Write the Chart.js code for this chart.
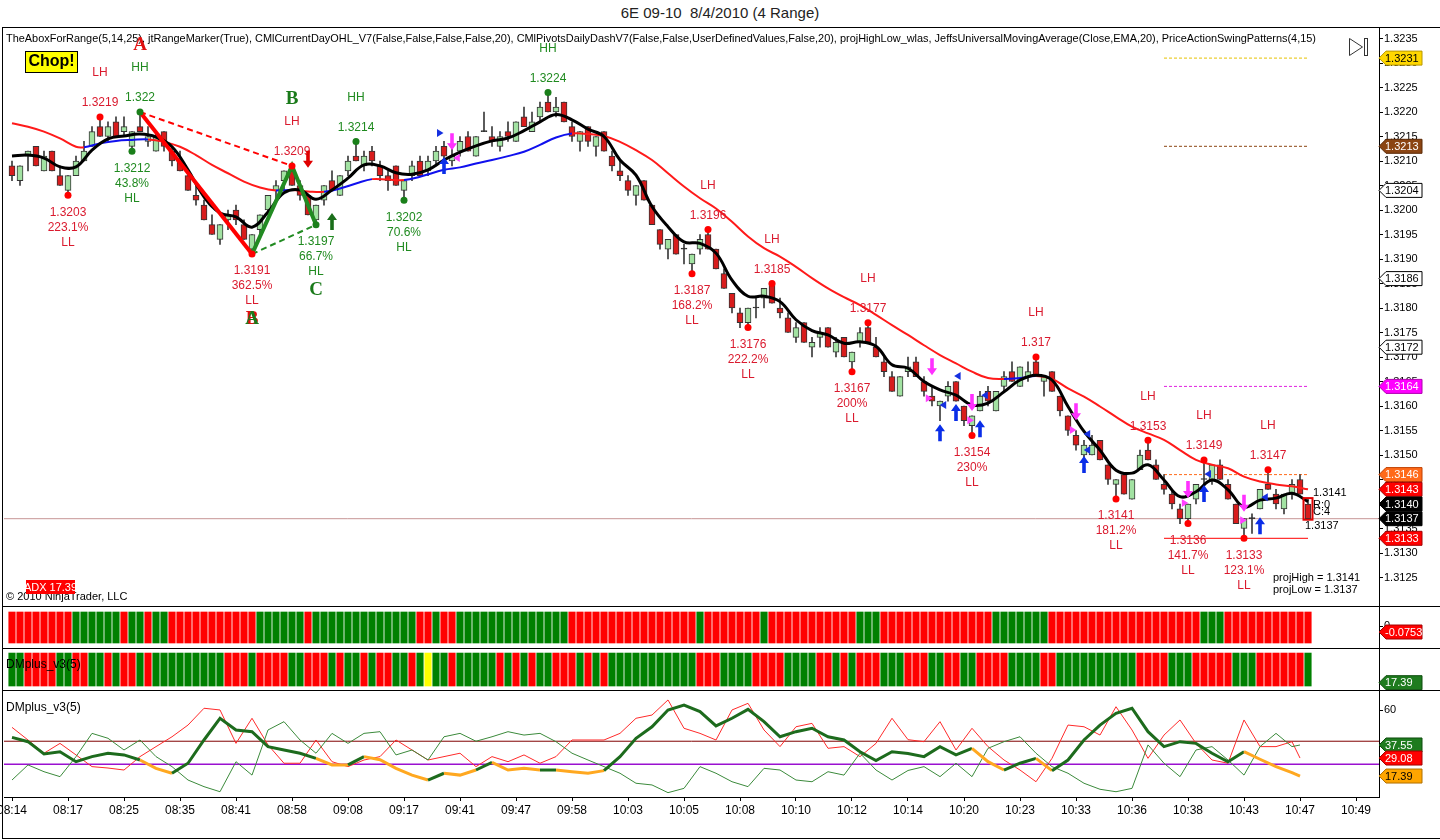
<!DOCTYPE html>
<html>
<head>
<meta charset="utf-8">
<title>6E 09-10 8/4/2010 (4 Range)</title>
<script src="https://cdn.jsdelivr.net/npm/chart.js@4.4.1/dist/chart.umd.min.js"></script>
<style>
html,body{margin:0;padding:0;background:#fff;}
body{width:1440px;height:840px;position:relative;overflow:hidden;font-family:Arial,"Liberation Sans",sans-serif;}
canvas{position:absolute;left:0;}
.ln{position:absolute;background:#000;}
#title{position:absolute;top:4px;left:0;width:1440px;text-align:center;font-size:15px;color:#222;line-height:18px;}
</style>
</head>
<body>
<div id="title">6E 09-10&nbsp; 8/4/2010 (4 Range)</div>
<canvas id="main" width="1440" height="579" style="top:27px"></canvas>
<canvas id="p1" width="1440" height="42" style="top:606px"></canvas>
<canvas id="p2" width="1440" height="42" style="top:648px"></canvas>
<canvas id="dm" width="1440" height="148" style="top:690px"></canvas>
<div class="ln" style="left:2px;top:27px;width:1438px;height:1px"></div>
<div class="ln" style="left:2px;top:606px;width:1438px;height:1px"></div>
<div class="ln" style="left:2px;top:648px;width:1438px;height:1px"></div>
<div class="ln" style="left:2px;top:690px;width:1438px;height:1px"></div>
<div class="ln" style="left:2px;top:838px;width:1438px;height:1px"></div>
<div class="ln" style="left:2px;top:27px;width:1px;height:812px"></div>
<script>
// ---------------- DATA ----------------
const infoText = "TheAboxForRange(5,14,25), jtRangeMarker(True), CMlCurrentDayOHL_V7(False,False,False,False,20), CMlPivotsDailyDashV7(False,False,UserDefinedValues,False,20), projHighLow_wlas, JeffsUniversalMovingAverage(Close,EMA,20), PriceActionSwingPatterns(4,15)";

const timeLabels = ['08:14','08:17','08:25','08:35','08:41','08:58','09:08','09:17','09:41','09:47','09:58','10:03','10:05','10:08','10:10','10:12','10:14','10:20','10:23','10:33','10:36','10:38','10:43','10:47','10:49'];
const timeIdx = [0,7,14,21,28,35,42,49,56,63,70,77,84,91,98,105,112,119,126,133,140,147,154,161,168];
const priceTicks = [1.3125,1.3130,1.3135,1.3140,1.3145,1.3150,1.3155,1.3160,1.3165,1.3170,1.3175,1.3180,1.3185,1.3190,1.3195,1.3200,1.3205,1.3210,1.3215,1.3220,1.3225,1.3230,1.3235];
const dmTicks = [60];
const p1Ticks = [0];

const open = [1.3209,1.3206,1.3211,1.3213,1.3208,1.3212,1.3207,1.3204,1.3207,1.3210, 1.3213,1.3217,1.3215,1.3218,1.3216,1.3213,1.3217,1.3214,1.3212,1.3216, 1.3212,1.3210,1.3207,1.3203,1.3201,1.3197,1.3194,1.3198,1.3200,1.3197, 1.3192,1.3196,1.3200,1.3204,1.3206,1.3208,1.3205,1.3203,1.3198,1.3202, 1.3206,1.3203,1.3208,1.3211,1.3209,1.3212,1.3209,1.3207,1.3209,1.3204, 1.3207,1.3210,1.3208,1.3210,1.3213,1.3210,1.3212,1.3215,1.3211,1.3216, 1.3215,1.3213,1.3216,1.3214,1.3219,1.3216,1.3219,1.3222,1.3220,1.3222, 1.3217,1.3214,1.3217,1.3213,1.3216,1.3211,1.3208,1.3206,1.3203,1.3206, 1.3201,1.3196,1.3192,1.3195,1.3192,1.3189,1.3192,1.3195,1.3192,1.3187, 1.3183,1.3179,1.3177,1.3180,1.3182,1.3185,1.3180,1.3178,1.3174,1.3177, 1.3172,1.3174,1.3176,1.3171,1.3174,1.3169,1.3173,1.3176,1.3172,1.3169, 1.3166,1.3162,1.3167,1.3169,1.3165,1.3162,1.3160,1.3162,1.3165,1.3160, 1.3156,1.3159,1.3163,1.3159,1.3164,1.3167,1.3164,1.3166,1.3169,1.3165, 1.3167,1.3162,1.3158,1.3154,1.3150,1.3150,1.3153,1.3148,1.3144,1.3146, 1.3141,1.3147,1.3151,1.3148,1.3144,1.3142,1.3139,1.3137,1.3141,1.3145, 1.3145,1.3148,1.3144,1.3140,1.3135,1.3137,1.3139,1.3144,1.3142,1.3139, 1.3142,1.3145,1.3140];
const high = [1.3210,1.3209,1.3212,1.3213,1.3212,1.3212,1.3209,1.3207,1.3211,1.3214, 1.3217,1.3219,1.3218,1.3219,1.3219,1.3216,1.3220,1.3217,1.3216,1.3216, 1.3213,1.3212,1.3208,1.3205,1.3202,1.3199,1.3197,1.3200,1.3201,1.3198, 1.3195,1.3199,1.3203,1.3206,1.3208,1.3209,1.3206,1.3203,1.3201,1.3205, 1.3208,1.3207,1.3211,1.3214,1.3212,1.3213,1.3210,1.3208,1.3209,1.3206, 1.3210,1.3211,1.3211,1.3213,1.3214,1.3213,1.3215,1.3216,1.3215,1.3220, 1.3217,1.3216,1.3218,1.3218,1.3221,1.3220,1.3222,1.3224,1.3223,1.3222, 1.3218,1.3216,1.3217,1.3215,1.3216,1.3212,1.3210,1.3207,1.3205,1.3206, 1.3201,1.3196,1.3194,1.3195,1.3193,1.3191,1.3195,1.3196,1.3192,1.3188, 1.3183,1.3180,1.3180,1.3182,1.3184,1.3185,1.3182,1.3179,1.3177,1.3177, 1.3174,1.3176,1.3176,1.3174,1.3174,1.3171,1.3176,1.3177,1.3174,1.3170, 1.3167,1.3166,1.3170,1.3170,1.3166,1.3164,1.3161,1.3165,1.3165,1.3160, 1.3158,1.3163,1.3164,1.3163,1.3167,1.3169,1.3168,1.3169,1.3170,1.3166, 1.3167,1.3162,1.3158,1.3155,1.3153,1.3154,1.3153,1.3148,1.3145,1.3146, 1.3145,1.3151,1.3153,1.3149,1.3146,1.3143,1.3140,1.3140,1.3144,1.3149, 1.3148,1.3149,1.3145,1.3140,1.3137,1.3138,1.3143,1.3147,1.3143,1.3142, 1.3145,1.3146,1.3141];
const low = [1.3206,1.3205,1.3208,1.3209,1.3208,1.3208,1.3205,1.3203,1.3207,1.3210, 1.3213,1.3215,1.3214,1.3215,1.3215,1.3212,1.3216,1.3213,1.3212,1.3212, 1.3209,1.3208,1.3204,1.3201,1.3198,1.3195,1.3193,1.3196,1.3197,1.3194, 1.3191,1.3195,1.3199,1.3202,1.3204,1.3205,1.3202,1.3199,1.3197,1.3201, 1.3204,1.3203,1.3207,1.3210,1.3208,1.3209,1.3206,1.3204,1.3205,1.3202, 1.3206,1.3207,1.3207,1.3209,1.3210,1.3209,1.3211,1.3212,1.3211,1.3216, 1.3213,1.3212,1.3214,1.3214,1.3217,1.3216,1.3218,1.3220,1.3219,1.3218, 1.3214,1.3212,1.3213,1.3211,1.3212,1.3208,1.3206,1.3203,1.3201,1.3202, 1.3197,1.3192,1.3190,1.3191,1.3189,1.3187,1.3191,1.3192,1.3188,1.3184, 1.3179,1.3176,1.3176,1.3178,1.3180,1.3181,1.3178,1.3175,1.3173,1.3173, 1.3170,1.3172,1.3172,1.3170,1.3170,1.3167,1.3172,1.3173,1.3170,1.3166, 1.3163,1.3162,1.3166,1.3166,1.3162,1.3160,1.3157,1.3161,1.3161,1.3156, 1.3154,1.3159,1.3160,1.3159,1.3163,1.3165,1.3164,1.3165,1.3166,1.3162, 1.3163,1.3158,1.3154,1.3151,1.3149,1.3150,1.3149,1.3144,1.3141,1.3142, 1.3141,1.3147,1.3149,1.3145,1.3142,1.3139,1.3136,1.3136,1.3140,1.3144, 1.3144,1.3145,1.3141,1.3136,1.3133,1.3134,1.3139,1.3143,1.3139,1.3138, 1.3141,1.3142,1.3137];
const close = [1.3207,1.3209,1.3212,1.3209,1.3211,1.3208,1.3205,1.3207,1.3210,1.3212, 1.3216,1.3215,1.3217,1.3215,1.3217,1.3216,1.3216,1.3215,1.3215,1.3213, 1.3210,1.3208,1.3204,1.3202,1.3198,1.3195,1.3197,1.3199,1.3198,1.3194, 1.3195,1.3199,1.3203,1.3205,1.3208,1.3205,1.3203,1.3199,1.3201,1.3205, 1.3204,1.3207,1.3210,1.3210,1.3211,1.3210,1.3207,1.3206,1.3205,1.3206, 1.3209,1.3207,1.3210,1.3212,1.3211,1.3211,1.3214,1.3212,1.3215,1.3216, 1.3214,1.3215,1.3215,1.3218,1.3217,1.3218,1.3221,1.3220,1.3221,1.3218, 1.3215,1.3216,1.3214,1.3215,1.3212,1.3209,1.3207,1.3204,1.3205,1.3202, 1.3197,1.3193,1.3194,1.3191,1.3192,1.3191,1.3194,1.3192,1.3188,1.3184, 1.3180,1.3177,1.3180,1.3180,1.3184,1.3181,1.3179,1.3175,1.3176,1.3173, 1.3173,1.3175,1.3172,1.3173,1.3170,1.3171,1.3175,1.3173,1.3170,1.3167, 1.3163,1.3166,1.3168,1.3166,1.3163,1.3161,1.3161,1.3164,1.3161,1.3157, 1.3158,1.3162,1.3161,1.3163,1.3166,1.3165,1.3168,1.3167,1.3166,1.3166, 1.3163,1.3159,1.3155,1.3152,1.3152,1.3152,1.3149,1.3145,1.3145,1.3142, 1.3145,1.3150,1.3149,1.3145,1.3143,1.3140,1.3137,1.3140,1.3144,1.3145, 1.3148,1.3145,1.3141,1.3136,1.3137,1.3137,1.3143,1.3143,1.3140,1.3142, 1.3144,1.3142,1.3137];

// EMA(20) line [bar, price]
const emaPts = [[0,1.32177],[2,1.32170],[4,1.32160],[6,1.32146],[8,1.32129],[9,1.32128],[11,1.32136],[13,1.32141],[15,1.32143],[17,1.32144],[19,1.32139],[21,1.32129],[23,1.32112],[25,1.32092],[27,1.32075],[29,1.32058],[31,1.32046],[33,1.32040],[35,1.32041],[37,1.32038],[39,1.32037],[41,1.32044],[43,1.32054],[45,1.32063],[47,1.32062],[49,1.32061],[51,1.32068],[54,1.32082],[56,1.32087],[58,1.32095],[60,1.32102],[62,1.32110],[64,1.32119],[66,1.32133],[68,1.32148],[70,1.32156],[72,1.32155],[74,1.32151],[76,1.32139],[78,1.32122],[80,1.32102],[82,1.32075],[84,1.32048],[86,1.32024],[88,1.32003],[90,1.31976],[92,1.31946],[94,1.31922],[96,1.31905],[98,1.31884],[100,1.31861],[102,1.31840],[104,1.31822],[106,1.31806],[108,1.31786],[110,1.31765],[112,1.31745],[114,1.31724],[116,1.31704],[118,1.31687],[120,1.31670],[122,1.31657],[124,1.31655],[126,1.31657],[128,1.31661],[130,1.31655],[132,1.31636],[134,1.31619],[136,1.31599],[138,1.31578],[140,1.31558],[142,1.31544],[144,1.31531],[146,1.31510],[148,1.31490],[150,1.31480],[152,1.31473],[154,1.31456],[156,1.31446],[158,1.31440],[160,1.31436],[162,1.31430]];
// smoothed (black) average [bar, price]
const smoothPts = [[0,1.32110],[2,1.32112],[4,1.32106],[6,1.32088],[8,1.32088],[10,1.32122],[12,1.32145],[14,1.32151],[16,1.32155],[18,1.32149],[20,1.32129],[22,1.32082],[24,1.32027],[26,1.31994],[28,1.31986],[30,1.31965],[32,1.31996],[34,1.32035],[36,1.32041],[38,1.32022],[40,1.32041],[42,1.32065],[44,1.32092],[46,1.32090],[48,1.32076],[50,1.32073],[52,1.32082],[54,1.32102],[56,1.32118],[58,1.32131],[60,1.32141],[62,1.32147],[64,1.32162],[66,1.32180],[68,1.32195],[70,1.32184],[72,1.32165],[74,1.32150],[76,1.32102],[78,1.32071],[80,1.32007],[82,1.31966],[84,1.31935],[86,1.31932],[88,1.31912],[90,1.31857],[92,1.31824],[94,1.31824],[96,1.31813],[98,1.31776],[100,1.31754],[102,1.31745],[104,1.31728],[106,1.31731],[108,1.31722],[110,1.31684],[112,1.31677],[114,1.31650],[116,1.31633],[118,1.31622],[120,1.31602],[122,1.31606],[124,1.31629],[126,1.31653],[128,1.31663],[130,1.31653],[132,1.31599],[134,1.31548],[136,1.31510],[138,1.31469],[140,1.31463],[142,1.31480],[144,1.31449],[146,1.31415],[148,1.31425],[150,1.31449],[152,1.31429],[154,1.31394],[156,1.31408],[158,1.31412],[160,1.31422],[162,1.31405]];

// swing points
const swingIdx   = [7,11,15,16,30,35,38,43,49,67,85,87,92,95,105,107,120,128,138,142,147,149,154,157];
const swingPrice = [1.3203,1.3219,1.3212,1.3220,1.3191,1.3209,1.3197,1.3214,1.3202,1.3224,1.3187,1.3196,1.3176,1.3185,1.3167,1.3177,1.3154,1.3170,1.3141,1.3153,1.3136,1.3149,1.3133,1.3147];
const swingType  = ['LL','LH','HL','HH','LL','LH','HL','HH','HL','HH','LL','LH','LL','LH','LL','LH','LL','LH','LL','LH','LL','LH','LL','LH'];
const swingPct   = ['223.1%','','43.8%','','362.5%','','66.7%','','70.6%','','168.2%','','222.2%','','200%','','230%','','181.2%','','141.7%','','123.1%',''];
const bearABC = [16,30,35];
const bullABC = [30,35,38];

// signal arrows [bar, tip price]
const arrowIdx   = [37,40,54,55,115,116,118,120,121,133,134,147,149,154,156];
const arrowPrice = [1.32086,1.31994,1.32108,1.32122,1.31663,1.31563,1.31604,1.31590,1.31571,1.31571,1.31498,1.31412,1.31439,1.31384,1.31373];
const arrowKind  = ['dnRed','upGreen','upBlue','dnMag','dnMag','upBlue','upBlue','dnMag','upBlue','dnMag','upBlue','dnMag','upBlue','dnMag','upBlue'];
const triIdx   = [53.5,55.6,114.6,116.4,118.2,119.8,121.6,132.6,134.4,134.4,146.6,149.5,153.9,156.6];
const triPrice = [1.32157,1.32106,1.31616,1.31602,1.31661,1.31571,1.31622,1.31551,1.31543,1.31510,1.31402,1.31461,1.31367,1.31414];
const triKind  = ['bR','mL','mR','bL','bL','mR','bL','mR','bL','bL','mR','bL','mR','bL'];

// level lines and axis tags
const levelVals = [1.3231,1.3213,1.3164,1.3146,1.3133];
const levelSpan = [144,162];
const lastPriceLine = 1.3137;
const projHigh = 1.3141, projLow = 1.3137;
const mainTagVals = [1.3231,1.3213,1.3204,1.3186,1.3172,1.3164,1.3146,1.3143,1.3140,1.3137,1.3133];
const adxBoxValue = 17.39;
const p1Value = -0.0753;

// color-bar panels (run-length)
const p1Runs = [['R',8],['G',6],['R',1],['G',2],['R',1],['G',2],['R',11],['G',6],['R',1],['G',13],['R',2],['G',1],['R',2],['G',14],['R',16],['G',1],['R',7],['G',1],['R',11],['G',3],['R',14],['G',7],['R',19],['G',3],['R',11]];
const p2Runs = [['G',2],['R',4],['G',2],['R',2],['G',2],['R',1],['G',1],['R',2],['G',1],['R',1],['G',9],['R',3],['G',1],['R',4],['G',2],['R',3],['G',1],['R',1],['G',2],['R',1],['G',1],['R',2],['G',2],['R',1],['G',1],['Y',1],['G',2],['R',1],['G',5],['R',1],['G',1],['R',1],['G',1],['R',1],['G',2],['R',3],['G',1],['R',1],['G',1],['R',1],['G',11],['R',3],['G',4],['R',4],['G',4],['R',2],['G',1],['R',1],['G',1],['R',3],['G',3],['R',3],['G',2],['R',2],['G',2],['R',4],['G',4],['R',2],['G',10],['R',4],['G',3],['R',5],['G',3],['R',6],['G',1]];

// DMplus panel
const dmIdx = [0,2,4,6,8,10,12,14,16,18,20,22,24,26,28,30,32,34,36,38,40,42,44,46,48,50,52,54,56,58,60,62,64,66,68,70,72,74,76,78,80,82,84,86,88,90,92,94,96,98,100,102,104,106,108,110,112,114,116,118,120,122,124,126,128,130,132,134,136,138,140,142,144,146,148,150,152,154,156,158,160,161];
const dmMinus = [49.0,40.8,32.2,38.6,31.1,23.5,22.6,21.3,30.0,36.5, 42.9,50.5,61.4,60.3,38.6,54.9,37.6,25.7,25.7,40.8, 26.7,23.5,27.8,30.0,40.8,34.3,27.8,30.0,32.2,23.5, 30.0,26.7,31.1,25.7,30.0,40.8,40.8,40.8,45.1,54.9, 57.0,66.8,48.4,45.1,40.8,60.3,64.6,47.3,36.5,49.4, 51.6,35.4,36.5,30.0,38.6,54.9,41.0,39.7,52.7,34.3, 48.4,36.5,27.8,21.3,13.7,28.9,50.5,49.4,44.0,62.4, 47.3,28.9,44.0,53.8,38.6,27.8,25.7,53.8,36.5,36.5, 39.7,29.08];
const dmPlus = [14.8,24.6,20.2,17.0,30.0,45.1,41.9,34.3,40.8,30.0, 23.5,14.8,10.5,7.2,26.7,18.0,47.3,52.7,40.8,32.2, 45.1,38.6,45.1,46.2,31.1,34.3,27.8,42.9,45.1,40.0, 42.9,46.2,44.0,45.1,39.7,32.2,27.8,23.5,19.2,12.7, 11.6,6.6,9.4,23.5,19.2,13.7,10.5,22.4,21.3,14.8, 13.7,20.2,18.0,32.2,21.3,14.8,21.0,23.5,17.0,25.7, 17.0,35.4,39.7,42.9,32.2,23.5,19.2,12.7,8.8,7.2, 9.4,37.6,25.7,17.0,34.3,36.5,27.8,18.0,36.5,45.1, 36.5,37.55];
const adx = [42.5,39.7,31.7,33.2,26.7,30.0,32.2,31.1,27.8,22.4, 19.2,25.7,40.8,54.9,47.3,46.2,36.5,34.3,32.2,28.9, 24.6,24.6,30.0,28.0,22.4,18.0,14.8,19.2,18.0,21.3, 26.3,21.3,22.4,21.3,21.3,20.2,19.2,20.9,30.0,41.9, 49.4,60.3,63.5,59.2,49.9,54.9,60.7,52.7,42.9,46.2, 48.4,42.9,40.8,33.2,27.4,33.2,32.0,30.0,36.5,31.1, 35.4,26.7,21.3,25.7,28.9,20.9,27.8,40.8,50.5,58.1, 61.4,46.2,36.5,39.7,38.6,32.2,26.7,33.2,28.3,23.5, 19.6,17.39];
const adxStateRuns = [['G',8],['O',2],['G',9],['O',2],['G',1],['O',4],['G',1],['O',2],['G',1],['O',3],['G',1],['O',3],['G',23],['O',2],['G',2],['O',1],['G',12],['O',5]];
const dmLevels = [40,25];

// ---------------- HELPERS ----------------
const expand = r => r.flatMap(([c,n]) => Array(n).fill(c));
const p1State = expand(p1Runs), p2State = expand(p2Runs), adxState = expand(adxStateRuns);
const barIdx = open.map((_, i) => i);
const X_MIN = -1, X_MAX = 170.875;
const FONT = 'Arial, "Liberation Sans", sans-serif';
Chart.defaults.font.family = FONT;
Chart.defaults.color = '#000';
const RED_T = '#da1a2e', GRN_T = '#1f8a1f';

function txt(ctx, s, x, y, color, font, align, base) {
  ctx.save(); ctx.fillStyle = color; ctx.font = font;
  ctx.textAlign = align || 'center'; ctx.textBaseline = base || 'middle';
  ctx.fillText(s, x, y); ctx.restore();
}
function tag(ctx, x0, y, s, bg, fg, bd) {
  const h = 14, w = 43;
  ctx.save(); ctx.beginPath();
  ctx.moveTo(x0, y); ctx.lineTo(x0 + 7, y - h / 2); ctx.lineTo(x0 + w, y - h / 2);
  ctx.lineTo(x0 + w, y + h / 2); ctx.lineTo(x0 + 7, y + h / 2); ctx.closePath();
  ctx.fillStyle = bg; ctx.fill(); ctx.strokeStyle = bd; ctx.lineWidth = 1; ctx.stroke();
  ctx.fillStyle = fg; ctx.font = '11px ' + FONT; ctx.textAlign = 'left'; ctx.textBaseline = 'middle';
  ctx.fillText(s, x0 + 6, y + 0.5); ctx.restore();
}
function arrow(ctx, x, yTip, dir, color) {
  const L = 17, hw = 5, hh = 7, sw = 1.8;
  const yb = yTip - dir * L, yh = yTip - dir * hh;
  ctx.save(); ctx.fillStyle = color; ctx.beginPath();
  ctx.moveTo(x, yTip); ctx.lineTo(x + hw, yh); ctx.lineTo(x + sw, yh); ctx.lineTo(x + sw, yb);
  ctx.lineTo(x - sw, yb); ctx.lineTo(x - sw, yh); ctx.lineTo(x - hw, yh); ctx.closePath(); ctx.fill(); ctx.restore();
}
function tri(ctx, x, y, dir, color) {
  ctx.save(); ctx.fillStyle = color; ctx.beginPath();
  ctx.moveTo(x + dir * 3.5, y); ctx.lineTo(x - dir * 3, y - 4); ctx.lineTo(x - dir * 3, y + 4); ctx.closePath(); ctx.fill(); ctx.restore();
}
// right-axis tick labels, placed with the chart's own y scale
function axisLabels(chart, vals, fmt) {
  const { ctx, scales: { y }, chartArea } = chart;
  vals.forEach(v => txt(ctx, fmt(v), chartArea.right + 5, y.getPixelForValue(v), '#000', '11px ' + FONT, 'left'));
}
function yAxisFit(s) { s.width = 61; s.paddingTop = 0; s.paddingBottom = 0; }
const baseOpts = {
  responsive: false, animation: false, events: [],
  layout: { autoPadding: false, padding: { left: 4, right: 0, top: 0, bottom: 0 } },
  plugins: { legend: { display: false }, tooltip: { enabled: false } }
};
const hiddenX = { type: 'linear', min: X_MIN, max: X_MAX, display: false, offset: false, grid: { offset: false } };
function rightAxis(min, max, tickVals) {
  return {
    type: 'linear', position: 'right', min: min, max: max, beginAtZero: false,
    afterFit: yAxisFit,
    afterBuildTicks: s => { s.ticks = tickVals.map(v => ({ value: v })); },
    ticks: { display: false },
    grid: { drawOnChartArea: false, drawTicks: tickVals.length > 0, tickLength: 4, color: '#000' },
    border: { display: true, color: '#000', width: 1 }
  };
}

// ---------------- MAIN PRICE PANEL ----------------
const swingPt = i => ({ x: i, y: swingPrice[swingIdx.indexOf(i)] });
const levelStyle = [['#e6c200',[3,2]],['#8b4513',[3,2]],['#e020e0',[3,2]],['#ff6a1a',[3,2]],['#ff0000',[]]];
const tagStyle = [['#ffd700','#000','#b89800'],['#8b4513','#fff','#5a2a08'],['#fff','#000','#000'],['#fff','#000','#000'],['#fff','#000','#000'],['#ff00ff','#fff','#b000b0'],['#ff6a1a','#fff','#c04000'],['#ff0000','#fff','#a00000'],['#000','#fff','#000'],['#000','#fff','#000'],['#ff0000','#fff','#a00000']];

const mainDecor = {
  id: 'mainDecor',
  afterDatasetsDraw(chart) {
    const { ctx, scales: { x, y }, chartArea } = chart;
    const O = 27;
    const F12 = '12px ' + FONT;
    axisLabels(chart, priceTicks, v => v.toFixed(4));
    // indicator list
    ctx.save(); ctx.fillStyle = '#000'; ctx.font = '11px "Liberation Sans Narrow","Arial Narrow",' + FONT;
    ctx.textBaseline = 'middle'; ctx.textAlign = 'left'; ctx.fillText(infoText, 6, 39 - O, 1310); ctx.restore();
    // Chop! box
    ctx.save(); ctx.fillStyle = '#ffff00'; ctx.fillRect(25, 51 - O, 52, 21); ctx.strokeStyle = '#000'; ctx.lineWidth = 1;
    ctx.strokeRect(25.5, 51.5 - O, 52, 21); ctx.restore();
    txt(ctx, 'Chop!', 51.5, 62 - O, '#000', 'bold 16px ' + FONT);
    // swing labels
    swingIdx.forEach((i, k) => {
      const px = x.getPixelForValue(i), py = y.getPixelForValue(swingPrice[k]);
      const t = swingType[k], col = t[0] === 'H' ? GRN_T : RED_T;
      if (t[1] === 'H') {
        txt(ctx, String(swingPrice[k]), px, py - 14, col, F12);
        txt(ctx, t, px, py - 44, col, F12);
      } else {
        txt(ctx, String(swingPrice[k]), px, py + 17, col, F12);
        txt(ctx, swingPct[k], px, py + 32, col, F12);
        txt(ctx, t, px, py + 47, col, F12);
      }
    });
    // ABC letters
    const LF = 'bold 19px "Liberation Serif","Times New Roman",serif';
    const letter = (i, s, col) => {
      const k = swingIdx.indexOf(i), px = x.getPixelForValue(i), py = y.getPixelForValue(swingPrice[k]);
      const up = swingType[k][1] === 'H';
      txt(ctx, s, px, up ? py - 67 : py + 65, col, LF);
    };
    letter(bearABC[0], 'A', '#e01010'); letter(bearABC[1], 'B', '#e01010');
    letter(bullABC[0], 'A', '#1a7a1a'); letter(bullABC[1], 'B', '#1a7a1a'); letter(bullABC[2], 'C', '#1a7a1a');
    // arrows
    const aCol = { dnRed: ['#e00000', 1], upGreen: ['#1a6e1a', -1], upBlue: ['#0a2ee8', -1], dnMag: ['#ff30ff', 1] };
    arrowIdx.forEach((i, k) => {
      const [c, d] = aCol[arrowKind[k]];
      arrow(ctx, x.getPixelForValue(i), y.getPixelForValue(arrowPrice[k]), d, c);
    });
    const tCol = { bR: ['#1530e0', 1], bL: ['#1530e0', -1], mR: ['#ff40ff', 1], mL: ['#ff40ff', -1] };
    triIdx.forEach((i, k) => {
      const [c, d] = tCol[triKind[k]];
      tri(ctx, x.getPixelForValue(i), y.getPixelForValue(triPrice[k]), d, c);
    });
    // last bar box & projections
    const last = open.length - 1, lx = x.getPixelForValue(last);
    const yH = y.getPixelForValue(high[last]), yL = y.getPixelForValue(low[last]);
    ctx.save(); ctx.strokeStyle = '#e00000'; ctx.lineWidth = 2; ctx.strokeRect(lx - 4.5, yH - 1, 9, yL - yH + 2); ctx.restore();
    const F11 = '11px ' + FONT;
    txt(ctx, String(projHigh), lx + 5, y.getPixelForValue(projHigh) - 6, '#000', F11, 'left');
    txt(ctx, 'R:0', lx + 5, y.getPixelForValue(projHigh) + 6, '#000', F11, 'left');
    txt(ctx, 'C:4', lx + 5, y.getPixelForValue(projHigh) + 13, '#000', F11, 'left');
    txt(ctx, String(projLow), lx - 3, y.getPixelForValue(projLow) + 7, '#000', F11, 'left');
    txt(ctx, 'projHigh = ' + projHigh, 1273, 578 - O, '#000', F11, 'left');
    txt(ctx, 'projLow = ' + projLow, 1273, 590 - O, '#000', F11, 'left');
    // copyright & ADX box
    txt(ctx, '\u00A9 2010 NinjaTrader, LLC', 6, 597 - O, '#000', F11, 'left');
    ctx.save(); ctx.fillStyle = '#ff0000'; ctx.fillRect(26, 580 - O, 49, 14); ctx.restore();
    txt(ctx, 'ADX ' + adxBoxValue, 50.5, 587.5 - O, '#fff', F11);
    // play-to-end icon
    ctx.save(); ctx.strokeStyle = '#333'; ctx.lineWidth = 1; ctx.beginPath();
    ctx.moveTo(1349.5, 38.5 - O); ctx.lineTo(1362.5, 47 - O); ctx.lineTo(1349.5, 55.5 - O); ctx.closePath(); ctx.stroke();
    ctx.strokeRect(1364.5, 38.5 - O, 3, 17); ctx.restore();
    // axis tags
    mainTagVals.forEach((v, k) => {
      const [bg, fg, bd] = tagStyle[k];
      tag(ctx, chartArea.right, y.getPixelForValue(v), v.toFixed(4), bg, fg, bd);
    });
  }
};

const mainDatasets = [
  { type: 'line', data: [{ x: X_MIN, y: lastPriceLine }, { x: X_MAX, y: lastPriceLine }], borderColor: '#c79595', borderWidth: 1, pointRadius: 0, order: 30 },
  ...levelVals.map((v, k) => ({ type: 'line', data: [{ x: levelSpan[0], y: v }, { x: levelSpan[1], y: v }], borderColor: levelStyle[k][0], borderDash: levelStyle[k][1], borderWidth: 1, pointRadius: 0, order: 29 })),
  { type: 'bar', data: barIdx.map(i => ({ x: i, y: [low[i], high[i]] })), backgroundColor: '#3a3a3a', barThickness: 1, grouped: false, order: 20 },
  { type: 'bar', data: barIdx.map(i => ({ x: i, y: [open[i], close[i]] })),
    backgroundColor: barIdx.map(i => close[i] > open[i] ? '#a2e2a2' : (close[i] < open[i] ? '#d81c1c' : '#222')),
    borderColor: '#333', borderWidth: 1, borderSkipped: false, barThickness: 6, minBarLength: 1, grouped: false, order: 19 },
  { type: 'line', data: emaPts.map(([i, v]) => ({ x: i, y: v })), borderWidth: 2, pointRadius: 0, tension: 0.4, order: 6,
    borderColor: '#ff1a1a', segment: { borderColor: c => c.p1.parsed.y > c.p0.parsed.y ? '#1010ee' : '#ff1a1a' } },
  { type: 'line', data: smoothPts.map(([i, v]) => ({ x: i, y: v })), borderColor: '#000', borderWidth: 3, pointRadius: 0, tension: 0.4, order: 5 },
  { type: 'line', data: [swingPt(bearABC[0]), swingPt(bearABC[1])], borderColor: '#ff0000', borderWidth: 4, pointRadius: 0, order: 4 },
  { type: 'line', data: [swingPt(bearABC[0]), swingPt(bearABC[2])], borderColor: '#ff0000', borderWidth: 2, borderDash: [6, 4], pointRadius: 0, order: 4 },
  { type: 'line', data: bullABC.map(swingPt), borderColor: '#228b22', borderWidth: 4, pointRadius: 0, order: 3 },
  { type: 'line', data: [swingPt(bullABC[0]), swingPt(bullABC[2])], borderColor: '#228b22', borderWidth: 2, borderDash: [6, 4], pointRadius: 0, order: 3 },
  { type: 'scatter', data: swingIdx.map((i, k) => ({ x: i, y: swingPrice[k] })), pointRadius: 3.5, pointBorderWidth: 0,
    pointBackgroundColor: swingType.map(t => t[0] === 'H' ? '#1a7f1a' : '#ff0000'), order: 1 }
];

new Chart(document.getElementById('main'), {
  type: 'bar',
  data: { datasets: mainDatasets },
  options: { ...baseOpts, scales: { x: hiddenX, y: rightAxis(1.3119184, 1.3237347, priceTicks) } },
  plugins: [mainDecor]
});

// ---------------- COLOR-BAR PANELS ----------------
const stateColor = { R: '#ff0000', G: '#008000', Y: '#ffff00' };
function colorPanel(id, states, range, yMin, yMax, tickVals, decor) {
  new Chart(document.getElementById(id), {
    type: 'bar',
    data: { datasets: [{ data: barIdx.map(i => ({ x: i, y: range })), backgroundColor: states.map(s => stateColor[s]), barThickness: 6.5, grouped: false }] },
    options: { ...baseOpts, scales: { x: hiddenX, y: rightAxis(yMin, yMax, tickVals) } },
    plugins: [decor]
  });
}
colorPanel('p1', p1State, [-0.2125, 0.175], -0.275, 0.25, p1Ticks, {
  id: 'p1d', afterDatasetsDraw(chart) {
    axisLabels(chart, p1Ticks, v => String(v));
    tag(chart.ctx, chart.chartArea.right, chart.scales.y.getPixelForValue(p1Value), p1Value.toFixed(4), '#ff0000', '#fff', '#a00000');
  }
});
colorPanel('p2', p2State, [9.5, 88], 0, 100, [], {
  id: 'p2d', afterDatasetsDraw(chart) {
    txt(chart.ctx, 'DMplus_v3(5)', 6, 17, '#000', '12px ' + FONT, 'left');
    const v = adx[adx.length - 1];
    tag(chart.ctx, chart.chartArea.right, chart.scales.y.getPixelForValue(v), v.toFixed(2), '#1e7b1e', '#fff', '#0d4d0d');
  }
});

// ---------------- DMplus PANEL ----------------
const dmDecor = {
  id: 'dmDecor',
  afterDatasetsDraw(chart) {
    const { ctx, scales: { y }, chartArea } = chart;
    axisLabels(chart, dmTicks, v => String(v));
    txt(ctx, 'DMplus_v3(5)', 6, 18, '#000', '12px ' + FONT, 'left');
    const vp = dmPlus[dmPlus.length - 1], vm = dmMinus[dmMinus.length - 1], va = adx[adx.length - 1];
    tag(ctx, chartArea.right, y.getPixelForValue(vp), vp.toFixed(2), '#1e7b1e', '#fff', '#0d4d0d');
    tag(ctx, chartArea.right, y.getPixelForValue(vm), vm.toFixed(2), '#ff0000', '#fff', '#a00000');
    tag(ctx, chartArea.right, y.getPixelForValue(va), va.toFixed(2), '#ffa500', '#000', '#b07000');
  }
};
const dmPts = arr => dmIdx.map((i, k) => ({ x: i, y: arr[k] }));
new Chart(document.getElementById('dm'), {
  type: 'line',
  data: {
    datasets: [
      { data: [{ x: X_MIN, y: dmLevels[0] }, { x: X_MAX, y: dmLevels[0] }], borderColor: '#800000', borderWidth: 1, pointRadius: 0, order: 10 },
      { data: [{ x: X_MIN, y: dmLevels[1] }, { x: X_MAX, y: dmLevels[1] }], borderColor: '#9a10d0', borderWidth: 1.5, pointRadius: 0, order: 10 },
      { data: dmPts(dmMinus), borderColor: '#ff2a2a', borderWidth: 1, pointRadius: 0, order: 5 },
      { data: dmPts(dmPlus), borderColor: '#3b8a3b', borderWidth: 1, pointRadius: 0, order: 4 },
      { data: dmPts(adx), borderColor: '#1d6b1d', borderWidth: 3, pointRadius: 0, order: 1,
        segment: { borderColor: c => adxState[c.p0DataIndex] === 'O' ? '#ffa820' : '#1d6b1d' } }
    ]
  },
  options: {
    ...baseOpts,
    scales: {
      x: {
        type: 'linear', min: X_MIN, max: X_MAX, offset: false, position: 'bottom',
        afterFit: s => { s.height = 41; s.paddingLeft = 0; s.paddingRight = 0; },
        afterBuildTicks: s => { s.ticks = timeIdx.map(v => ({ value: v })); },
        ticks: { autoSkip: false, maxRotation: 0, minRotation: 0, font: { size: 12 }, color: '#000', padding: 2,
          callback: (v, k) => timeLabels[k] },
        grid: { drawOnChartArea: false, drawTicks: true, tickLength: 4, color: '#000', offset: false },
        border: { display: true, color: '#000' }
      },
      y: rightAxis(3.78, 73.26, dmTicks)
    }
  },
  plugins: [dmDecor]
});
</script>
</body>
</html>
